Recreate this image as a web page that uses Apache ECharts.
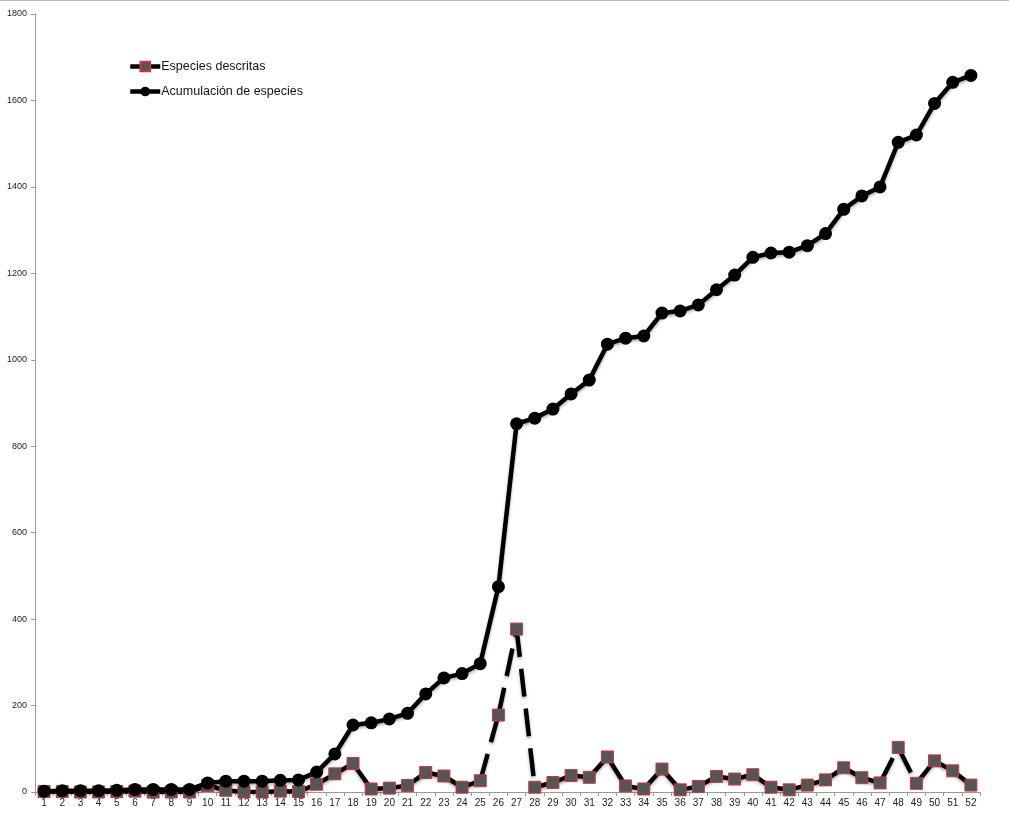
<!DOCTYPE html>
<html>
<head>
<meta charset="utf-8">
<script src="https://cdn.jsdelivr.net/npm/echarts@6/dist/echarts.min.js"></script>
<style>
html,body{margin:0;padding:0;background:#fff;}
#main{width:1009px;height:834px;}
</style>
</head>
<body>
<div id="main"></div>
<script>
var categories = [];
for (var i = 1; i <= 52; i++) categories.push(String(i));

var especiesDescritas = [1,1,0,0,1,2,0,0,0,15,4,0,0,2,1,18,42,66,7,9,15,45,37,11,26,178,377,11,22,38,34,81,14,7,53,5,13,36,30,40,11,5,16,28,56,33,21,103,20,72,49,16];

var acumulacion = [2,3,3,3,4,6,6,6,6,21,25,25,25,27,28,46,88,155,160,169,182,227,264,274,297,475,852,865,886,921,953,1036,1050,1055,1108,1113,1127,1162,1196,1237,1247,1249,1264,1292,1348,1379,1400,1503,1520,1593,1642,1658];

var seriesNames = ['Especies descritas', 'Acumulación de especies'];

var font = 'Liberation Sans, Arial, sans-serif';
var shadow = {shadowColor: 'rgba(0,0,0,0.3)', shadowBlur: 3, shadowOffsetY: 2};

// dashed connector, restarting the dash pattern on each segment (as in the original)
var segmentSeries = [];
for (var s = 0; s < especiesDescritas.length - 1; s++) {
  var segData = especiesDescritas.map(function (v, j) {
    return (j === s || j === s + 1) ? v : null;
  });
  segmentSeries.push({
    name: 'seg' + s,
    type: 'line',
    data: segData,
    symbol: 'none',
    showSymbol: false,
    connectNulls: false,
    silent: true,
    z: 1,
    lineStyle: Object.assign({color: '#000', width: 4.5, type: [28, 12]}, shadow)
  });
}

var chart = echarts.init(document.getElementById('main'), null, {renderer: 'canvas'});
chart.setOption({
  animation: false,
  backgroundColor: '#fff',
  graphic: [{
    type: 'line',
    shape: {x1: 0, y1: 0.5, x2: 1009, y2: 0.5},
    style: {stroke: '#bbb', lineWidth: 1}
  }],
  grid: {left: 35, right: 29, top: 14, bottom: 42, containLabel: false},
  legend: {
    orient: 'vertical',
    left: 123,
    top: 55,
    itemWidth: 30,
    itemHeight: 12,
    itemGap: 12,
    textStyle: {fontFamily: font, fontSize: 12.5, color: '#111', padding: [0,0,0,-4]},
    data: [
      {name: seriesNames[0], lineStyle: {color: '#000', width: 4.5, opacity: 1, type: 'solid'}},
      {name: seriesNames[1], lineStyle: {color: '#000', width: 4.5, opacity: 1, type: 'solid'}}
    ]
  },
  xAxis: {
    type: 'category',
    data: categories,
    boundaryGap: true,
    axisLine: {lineStyle: {color: '#999', width: 1}},
    axisTick: {show: true, length: 4, lineStyle: {color: '#999'}},
    axisLabel: {interval: 0, fontFamily: font, fontSize: 10, color: '#222', margin: 6},
    splitLine: {show: false}
  },
  yAxis: {
    type: 'value',
    min: 0,
    max: 1800,
    interval: 200,
    axisLine: {show: true, lineStyle: {color: '#999', width: 1}},
    axisTick: {show: true, length: 4, lineStyle: {color: '#999'}},
    axisLabel: {fontFamily: font, fontSize: 9, color: '#222', margin: 8,
      formatter: function (v) { return String(v); }},
    splitLine: {show: false}
  },
  series: [
    {
      name: seriesNames[0],
      type: 'line',
      data: especiesDescritas,
      symbol: 'rect',
      symbolSize: 12,
      z: 2,
      lineStyle: {color: '#000', width: 4.5, opacity: 0},
      itemStyle: {color: '#555555', borderColor: '#d2343c', borderWidth: 1}
    },
    {
      name: seriesNames[1],
      type: 'line',
      data: acumulacion,
      symbol: 'circle',
      symbolSize: 13,
      z: 3,
      lineStyle: Object.assign({color: '#000', width: 4.5}, shadow),
      itemStyle: {color: '#000', borderColor: '#000', borderWidth: 0}
    }
  ].concat(segmentSeries)
});
</script>
</body>
</html>
